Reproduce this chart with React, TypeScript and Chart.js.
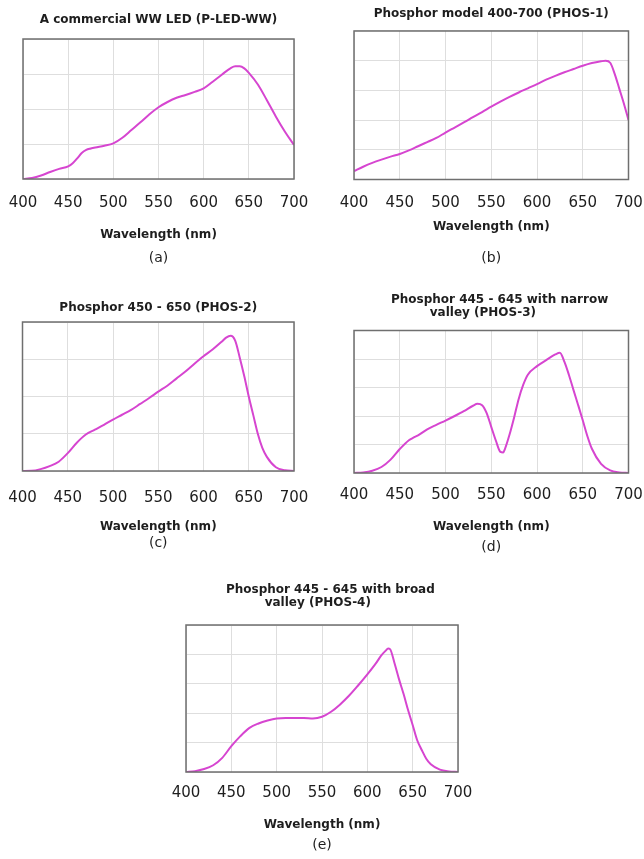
import React, { useEffect, useRef } from 'react';
import { Chart, registerables } from 'chart.js';

Chart.register(...registerables);

// ---------- data ----------
const X_TICKS = [400, 450, 500, 550, 600, 650, 700];

const wlA = [400, 410, 420, 430, 440, 450, 455, 460, 465, 470, 475, 480, 490, 500, 510, 520, 530, 540, 550, 560, 570, 580, 590, 600, 610, 620, 630, 635, 640, 645, 650, 660, 670, 680, 690, 700];
const valA = [0.0, 0.03, 0.1, 0.2, 0.29, 0.36, 0.45, 0.59, 0.74, 0.83, 0.87, 0.9, 0.95, 1.02, 1.18, 1.4, 1.62, 1.85, 2.05, 2.2, 2.32, 2.4, 2.49, 2.59, 2.78, 2.98, 3.17, 3.22, 3.22, 3.16, 3.03, 2.7, 2.25, 1.78, 1.35, 0.97];

const wlB = [400, 410, 420, 430, 440, 450, 460, 470, 480, 490, 500, 510, 520, 530, 540, 550, 560, 570, 580, 590, 600, 610, 620, 630, 640, 650, 660, 670, 675, 680, 685, 690, 695, 700];
const valB = [0.28, 0.43, 0.56, 0.67, 0.77, 0.86, 0.98, 1.12, 1.26, 1.4, 1.58, 1.75, 1.92, 2.1, 2.27, 2.45, 2.62, 2.78, 2.93, 3.07, 3.21, 3.36, 3.49, 3.61, 3.72, 3.83, 3.92, 3.98, 4.0, 3.93, 3.55, 3.05, 2.55, 2.0];

const wlC = [400, 410, 420, 430, 440, 450, 460, 470, 480, 490, 500, 510, 520, 530, 540, 550, 560, 570, 580, 590, 600, 610, 620, 625, 630, 635, 640, 645, 650, 655, 660, 665, 670, 680, 690, 700];
const valC = [0, 0.005, 0.05, 0.13, 0.25, 0.48, 0.76, 0.98, 1.11, 1.24, 1.38, 1.51, 1.64, 1.8, 1.96, 2.13, 2.29, 2.48, 2.67, 2.88, 3.08, 3.26, 3.47, 3.58, 3.63, 3.5, 3.05, 2.55, 2.0, 1.5, 1.0, 0.62, 0.38, 0.1, 0.02, 0];

const wlD = [400, 410, 420, 430, 440, 450, 460, 465, 470, 480, 490, 500, 510, 520, 530, 535, 540, 545, 550, 555, 560, 563, 565, 570, 575, 580, 585, 590, 600, 610, 620, 625, 630, 635, 640, 645, 650, 655, 660, 670, 680, 690, 700];
const valD = [0, 0.02, 0.08, 0.21, 0.47, 0.84, 1.15, 1.24, 1.32, 1.53, 1.69, 1.84, 2.0, 2.17, 2.36, 2.43, 2.38, 2.1, 1.62, 1.14, 0.74, 0.72, 0.85, 1.35, 1.95, 2.6, 3.1, 3.45, 3.75, 3.96, 4.16, 4.22, 3.9, 3.43, 2.9, 2.38, 1.85, 1.3, 0.85, 0.32, 0.09, 0.02, 0];

const wlE = [400, 410, 420, 430, 440, 450, 460, 470, 480, 490, 500, 510, 520, 530, 540, 550, 560, 570, 580, 590, 600, 610, 615, 620, 623, 625, 630, 635, 640, 645, 650, 655, 660, 665, 670, 680, 690, 700];
const valE = [0, 0.03, 0.1, 0.23, 0.48, 0.88, 1.22, 1.5, 1.65, 1.75, 1.82, 1.84, 1.84, 1.84, 1.82, 1.88, 2.05, 2.3, 2.6, 2.95, 3.32, 3.72, 3.95, 4.12, 4.2, 4.18, 3.7, 3.15, 2.65, 2.1, 1.6, 1.08, 0.75, 0.45, 0.26, 0.08, 0.02, 0];

const titleA = ['A commercial WW LED (P-LED-WW)'];
const titleB = ['Phosphor model 400-700 (PHOS-1)'];
const titleC = ['Phosphor 450 - 650 (PHOS-2)'];
const titleD = ['    Phosphor 445 - 645 with narrow', 'valley (PHOS-3)    '];
const titleE = ['    Phosphor 445 - 645 with broad', 'valley (PHOS-4)  '];

const AXIS_TITLE = 'Wavelength (nm)';

// ---------- styles ----------
const FONT = '"DejaVu Sans", Verdana, sans-serif';
const TEXT = '#1e1e1e';
const GRID = '#dedede';
const FRAME = '#6f6f6f';
const LINE = '#d645d0';

const TITLE_SIZE = 12;
const TICK_SIZE = 15;
const AXIS_SIZE = 12;
const SUB_SIZE = 14;

type Panel = {
  title: string[];
  sub: string;
  wl: number[];
  val: number[];
  yMax: number;
  canvas: { x: number; y: number; w: number; h: number };
  area: { L: number; R: number; T: number; B: number };
  titleY: number;
  titleLH: number;
  tickY: number;
  axisY: number;
  subY: number;
};

const panels: Panel[] = [
  { title: titleA, sub: '(a)', wl: wlA, val: valA, yMax: 4,
    canvas: { x: 0, y: 0, w: 322, h: 272 }, area: { L: 23, R: 294, T: 39, B: 179 },
    titleY: 20, titleLH: 14.4, tickY: 203, axisY: 235, subY: 258 },
  { title: titleB, sub: '(b)', wl: wlB, val: valB, yMax: 5,
    canvas: { x: 322, y: 0, w: 322, h: 272 }, area: { L: 354, R: 628.5, T: 31, B: 179.5 },
    titleY: 14, titleLH: 14.4, tickY: 203, axisY: 227, subY: 258 },
  { title: titleC, sub: '(c)', wl: wlC, val: valC, yMax: 4,
    canvas: { x: 0, y: 280, w: 322, h: 280 }, area: { L: 22.5, R: 294, T: 322, B: 471 },
    titleY: 308, titleLH: 14.4, tickY: 498, axisY: 527, subY: 543 },
  { title: titleD, sub: '(d)', wl: wlD, val: valD, yMax: 5,
    canvas: { x: 322, y: 280, w: 322, h: 280 }, area: { L: 354, R: 628.5, T: 330.5, B: 473 },
    titleY: 300, titleLH: 13, tickY: 495, axisY: 527, subY: 547 },
  { title: titleE, sub: '(e)', wl: wlE, val: valE, yMax: 5,
    canvas: { x: 160, y: 570, w: 324, h: 289 }, area: { L: 186, R: 458, T: 625, B: 772 },
    titleY: 590, titleLH: 13, tickY: 793, axisY: 825, subY: 845 },
];

const framePlugin = {
  id: 'frameBox',
  afterDatasetsDraw(chart: any) {
    const { ctx, chartArea: a } = chart;
    ctx.save();
    ctx.strokeStyle = FRAME;
    ctx.lineWidth = 1.5;
    ctx.strokeRect(a.left, a.top, a.right - a.left, a.bottom - a.top);
    ctx.restore();
  },
};

function PanelChart({ p }: { p: Panel }) {
  const ref = useRef<HTMLCanvasElement | null>(null);

  useEffect(() => {
    if (!ref.current) return;
    const { canvas, area } = p;
    const n = p.title.length;
    const tPadTop = p.titleY - canvas.y - p.titleLH / 2;
    const tPadBottom = area.T - canvas.y - tPadTop - n * p.titleLH;
    const tickGap = p.tickY - area.B - (TICK_SIZE * 1.2) / 2;
    const axisLH = AXIS_SIZE * 1.2;
    const xHeight = p.axisY + axisLH / 2 - area.B;
    const subLH = SUB_SIZE;
    const sPadTop = Math.max(0, p.subY - subLH / 2 - (p.axisY + axisLH / 2));
    const padBottom = Math.max(0, canvas.y + canvas.h - (area.B + xHeight + sPadTop + subLH));

    const chart = new Chart(ref.current, {
      type: 'line',
      data: {
        datasets: [
          {
            data: p.wl.map((x, i) => ({ x, y: p.val[i] })),
            borderColor: LINE,
            borderWidth: 2,
            pointRadius: 0,
            tension: 0.4,
            cubicInterpolationMode: 'monotone',
            fill: false,
          },
        ],
      },
      options: {
        responsive: false,
        animation: false,
        events: [],
        layout: {
          padding: {
            left: area.L - canvas.x,
            right: canvas.x + canvas.w - area.R,
            top: 0,
            bottom: padBottom,
          },
        },
        plugins: {
          legend: { display: false },
          tooltip: { enabled: false },
          title: {
            display: true,
            text: p.title,
            color: TEXT,
            font: { family: FONT, size: TITLE_SIZE, weight: 'bold', lineHeight: p.titleLH / TITLE_SIZE },
            padding: { top: tPadTop, bottom: tPadBottom },
          },
          subtitle: {
            display: true,
            position: 'bottom',
            text: p.sub,
            color: TEXT,
            font: { family: FONT, size: SUB_SIZE, weight: 'normal', lineHeight: 1 },
            padding: { top: sPadTop, bottom: 0 },
          },
        },
        scales: {
          x: {
            type: 'linear',
            min: 400,
            max: 700,
            afterBuildTicks: (s: any) => {
              s.ticks = X_TICKS.map((v) => ({ value: v }));
            },
            ticks: {
              autoSkip: false,
              maxRotation: 0,
              minRotation: 0,
              padding: 0,
              color: TEXT,
              font: { family: FONT, size: TICK_SIZE },
            },
            grid: {
              color: GRID,
              lineWidth: 1,
              drawTicks: true,
              tickLength: tickGap,
              tickColor: 'rgba(0,0,0,0)',
            },
            border: { display: false },
            title: {
              display: true,
              text: AXIS_TITLE,
              color: TEXT,
              font: { family: FONT, size: AXIS_SIZE, weight: 'bold', lineHeight: 1.2 },
              padding: { top: 0, bottom: 0 },
            },
            afterFit: (s: any) => {
              s.height = xHeight;
            },
          },
          y: {
            type: 'linear',
            min: 0,
            max: p.yMax,
            ticks: { display: false, stepSize: 1 },
            grid: { color: GRID, lineWidth: 1, drawTicks: false },
            border: { display: false },
          },
        },
      } as any,
      plugins: [framePlugin],
    });
    return () => chart.destroy();
  }, [p]);

  return (
    <canvas
      ref={ref}
      width={p.canvas.w}
      height={p.canvas.h}
      style={{
        position: 'absolute',
        left: p.canvas.x,
        top: p.canvas.y,
        width: p.canvas.w,
        height: p.canvas.h,
      }}
    />
  );
}

export default function App() {
  return (
    <div style={{ position: 'absolute', left: 0, top: 0, width: 644, height: 859, background: '#fff' }}>
      {panels.map((p, i) => (
        <PanelChart key={i} p={p} />
      ))}
    </div>
  );
}
